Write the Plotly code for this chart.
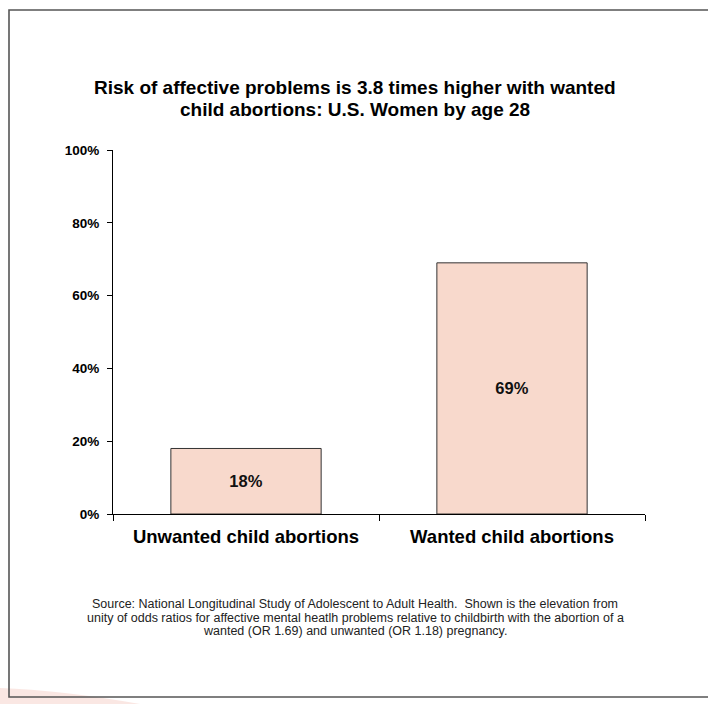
import plotly.graph_objects as go

# Chart data
categories = ["Unwanted child abortions", "Wanted child abortions"]
values = [18, 69]
value_labels = ["18%", "69%"]
y_ticks = [0, 20, 40, 60, 80, 100]
y_tick_labels = ["0%", "20%", "40%", "60%", "80%", "100%"]

title_lines = ["Risk of affective problems is 3.8 times higher with wanted",
               "child abortions: U.S. Women by age 28"]
source_lines = ["Source: National Longitudinal Study of Adolescent to Adult Health.  Shown is the elevation from",
                "unity of odds ratios for affective mental heatlh problems relative to childbirth with the abortion of a",
                "wanted (OR 1.69) and unwanted (OR 1.18) pregnancy."]

FONT = "Liberation Sans, Arial, sans-serif"

fig = go.Figure()
fig.add_trace(go.Bar(
    x=categories,
    y=values,
    text=[f"<b>{t}</b>" for t in value_labels],
    textposition="inside",
    insidetextanchor="middle",
    textangle=0,
    textfont=dict(family=FONT, size=16.5, color="#111111"),
    marker=dict(color="#F8D9CC", line=dict(color="#333333", width=1)),
    width=0.565,
    hoverinfo="skip",
))

W, H = 708, 704
L, R, T, B = 113, 63, 150, 190
pw, ph = W - L - R, H - T - B


def px(x):
    return (x - L) / pw


def py(y):
    return (H - B - y) / ph


shapes = [
    # faint decorative swoosh under the frame
    dict(type="path", xref="paper", yref="paper", layer="below",
         path=f"M {px(0)},{py(688)} Q {px(60)},{py(690)} {px(140)},{py(704)} L {px(0)},{py(704)} Z",
         fillcolor="rgba(240,185,175,0.35)", line=dict(width=0)),
    # slide frame
    dict(type="path", xref="paper", yref="paper", layer="above",
         path=f"M {px(720)},{py(10)} L {px(9)},{py(10)} L {px(9)},{py(697)} L {px(720)},{py(697)}",
         line=dict(color="#555555", width=1.6)),
]

annotations = []
# title, one annotation per line for tight line spacing
for i, line in enumerate(title_lines):
    annotations.append(dict(
        text=f"<b>{line}</b>", xref="paper", yref="paper",
        x=px(355), y=py(88 + 22 * i), xanchor="center", yanchor="middle",
        showarrow=False, font=dict(family=FONT, size=19, color="#000000")))
# source note
for i, line in enumerate(source_lines):
    annotations.append(dict(
        text=line, xref="paper", yref="paper",
        x=px(355), y=py(604 + 13.5 * i), xanchor="center", yanchor="middle",
        showarrow=False, font=dict(family=FONT, size=12.5, color="#222222")))

fig.update_layout(
    width=W, height=H,
    margin=dict(l=L, r=R, t=T, b=B, pad=0),
    paper_bgcolor="white", plot_bgcolor="white",
    showlegend=False,
    shapes=shapes,
    annotations=annotations,
    xaxis=dict(
        showline=True, linecolor="#000000", linewidth=1,
        ticks="outside", tickson="boundaries", ticklen=6, tickcolor="#000000",
        tickfont=dict(family=FONT, size=18.5, color="#000000"),
        tickprefix="<b>", ticksuffix="</b>",
        ticklabelstandoff=6,
        showgrid=False, zeroline=False,
        range=[-0.5, 1.5], fixedrange=True,
    ),
    yaxis=dict(
        range=[0, 100],
        tickvals=y_ticks, ticktext=[f"<b>{t}</b>" for t in y_tick_labels],
        showline=True, linecolor="#000000", linewidth=1,
        ticks="outside", ticklen=5, tickcolor="#000000",
        tickfont=dict(family=FONT, size=13.5, color="#000000"),
        ticklabelstandoff=5,
        showgrid=False, zeroline=False, fixedrange=True,
    ),
)

fig.write_html("out.html")
